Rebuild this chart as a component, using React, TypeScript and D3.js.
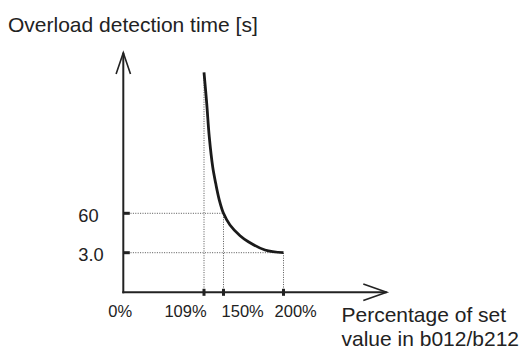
import React from "react";
import * as d3 from "d3";

// ---- data ----
const xTickValues = [0, 109, 150, 200];
const xTickLabels = ["0%", "109%", "150%", "200%"];
const yTickValues = [3, 60];
const yTickLabels = ["3.0", "60"];
// curve: [percentage of set value, detection time (schematic units)]
const curvePct = [109, 114.7, 120.1, 127.3, 133.6, 141.2, 150, 155.4, 163.8, 170.7, 184.6, 200];
const curveTime = [300, 247, 190, 139, 111, 82.6, 60, 43.1, 27.6, 18.9, 6.9, 3];
const titleText = "Overload detection time [s]";
const xLabelLines = ["Percentage of set", "value in b012/b212"];

// ---- layout ----
const W = 522;
const H = 349;
const x0 = 123.3;
const y0 = 292.3;
const xTop = 52.7;
const xRight = 386.7;
const FONT = "'Liberation Sans', Arial, Helvetica, sans-serif";
const xLabelDx = [-3, -18.5, 19.2, 12.2];

const xScale = d3
  .scaleLinear()
  .domain([0, 109, 150, 200])
  .range([x0, 204, 223.5, 283.5]);
const yScale = d3
  .scaleLinear()
  .domain([0, 3, 60, 300])
  .range([y0, 252.7, 213.3, 72.3]);

export default function App() {
  const pts: [number, number][] = curvePct.map((p, i) => [p, curveTime[i]]);
  const line = d3
    .line<[number, number]>()
    .x((d) => xScale(d[0]))
    .y((d) => yScale(d[1]))
    .curve(d3.curveCatmullRom.alpha(0.5));
  const dotted = { stroke: "#555", strokeWidth: 1, strokeDasharray: "1,1.4" };
  const topPct = curvePct[0];
  const topVal = curveTime[0];

  return (
    <svg
      width={W}
      height={H}
      style={{ position: "absolute", left: 0, top: 0, background: "#fff" }}
      fontFamily={FONT}
    >
      <text x={8} y={31.5} fontSize={21} fill="#222">
        {titleText}
      </text>

      {/* dotted guides */}
      <line x1={xScale(topPct)} x2={xScale(topPct)} y1={y0} y2={yScale(topVal)} {...dotted} />
      {[150, 200].map((p, i) => {
        const v = i === 0 ? 60 : 3;
        return (
          <g key={p}>
            <line x1={xScale(p)} x2={xScale(p)} y1={y0} y2={yScale(v)} {...dotted} />
            <line x1={x0} x2={xScale(p)} y1={yScale(v)} y2={yScale(v)} {...dotted} />
          </g>
        );
      })}

      {/* axes */}
      <line x1={x0} x2={x0} y1={y0 + 1} y2={xTop} stroke="#222" strokeWidth={2} />
      <line x1={x0 - 1} x2={xRight} y1={y0} y2={y0} stroke="#222" strokeWidth={2} />
      <polyline
        points={`${x0 - 7.2},${xTop + 21.3} ${x0},${xTop} ${x0 + 7.2},${xTop + 21.3}`}
        fill="none"
        stroke="#222"
        strokeWidth={1.6}
      />
      <polyline
        points={`${xRight - 23.4},${y0 - 8.3} ${xRight},${y0} ${xRight - 23.4},${y0 + 8.3}`}
        fill="none"
        stroke="#222"
        strokeWidth={1.6}
      />

      {/* x ticks */}
      {xTickValues.map((v, i) => (
        <g key={v}>
          {v !== 0 && (
            <rect x={xScale(v) - 1.5} y={y0 - 3.5} width={3} height={7} fill="#222" />
          )}
          <text
            x={xScale(v) + xLabelDx[i]}
            y={317}
            fontSize={16.5}
            textAnchor="middle"
            fill="#222"
          >
            {xTickLabels[i]}
          </text>
        </g>
      ))}

      {/* y ticks */}
      {yTickValues.map((v, i) => (
        <g key={v}>
          <rect x={x0} y={yScale(v) - 1.5} width={6.5} height={3} fill="#222" />
          <text x={78.3} y={yScale(v) + 8.3} fontSize={18.3} fill="#222">
            {yTickLabels[i]}
          </text>
        </g>
      ))}

      {/* curve */}
      <path d={line(pts) || ""} fill="none" stroke="#1a1a1a" strokeWidth={2.8} />

      {/* x axis title */}
      {xLabelLines.map((t, i) => (
        <text key={i} x={341.5} y={321.5 + i * 24.5} fontSize={21} fill="#222">
          {t}
        </text>
      ))}
    </svg>
  );
}
